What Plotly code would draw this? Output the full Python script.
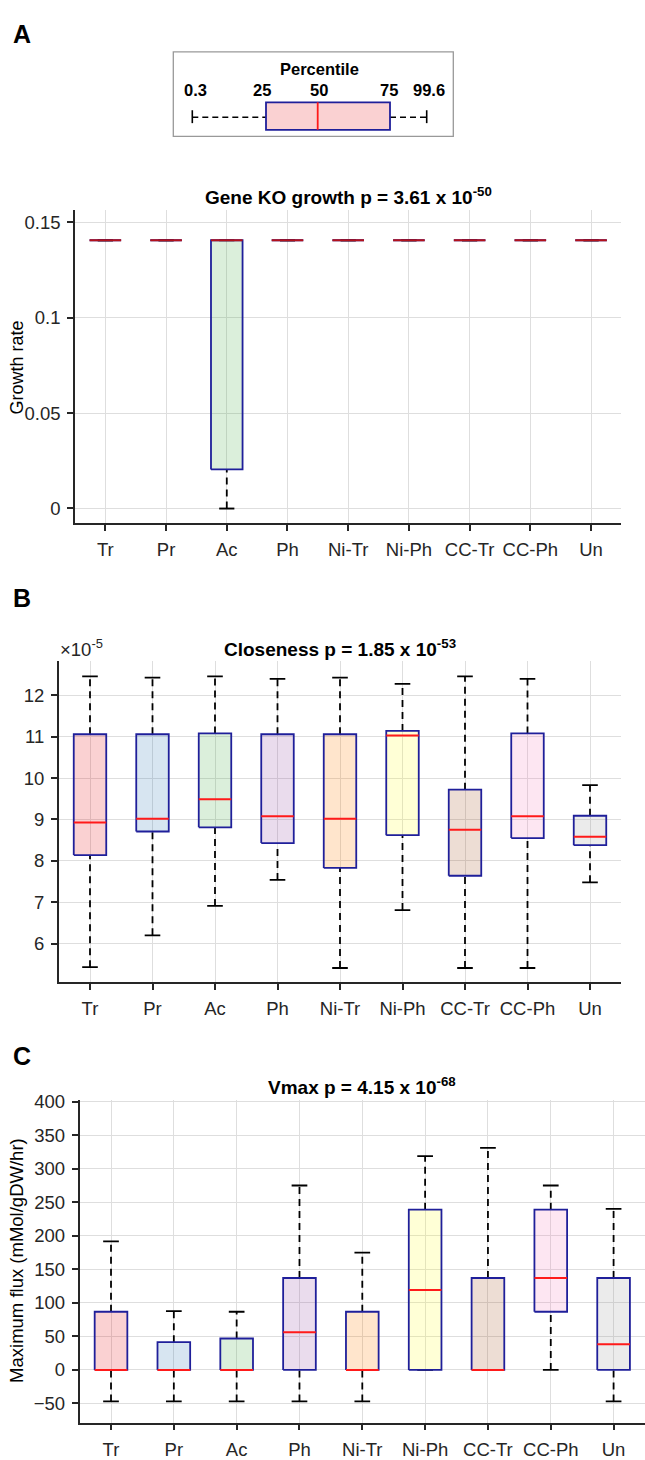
import plotly.graph_objects as go

# ---------------- data ----------------
categories = ["Tr", "Pr", "Ac", "Ph", "Ni-Tr", "Ni-Ph", "CC-Tr", "CC-Ph", "Un"]

# Panel A: gene KO growth rate (box statistics)
growth_lo = [0.1406, 0.1406, 0.0, 0.1406, 0.1406, 0.1406, 0.1406, 0.1406, 0.1406]
growth_q1 = [0.1406, 0.1406, 0.0205, 0.1406, 0.1406, 0.1406, 0.1406, 0.1406, 0.1406]
growth_med = [0.1406, 0.1406, 0.1406, 0.1406, 0.1406, 0.1406, 0.1406, 0.1406, 0.1406]
growth_q3 = [0.1406, 0.1406, 0.1406, 0.1406, 0.1406, 0.1406, 0.1406, 0.1406, 0.1406]
growth_hi = [0.1406, 0.1406, 0.1406, 0.1406, 0.1406, 0.1406, 0.1406, 0.1406, 0.1406]

# Panel B: closeness (x 1e-5)
close_lo = [5.43, 6.20, 6.91, 7.54, 5.41, 6.81, 5.41, 5.41, 7.48]
close_q1 = [8.14, 8.71, 8.81, 8.43, 7.83, 8.62, 7.64, 8.55, 8.38]
close_med = [8.93, 9.02, 9.49, 9.08, 9.02, 11.03, 8.75, 9.08, 8.58]
close_q3 = [11.06, 11.06, 11.08, 11.06, 11.06, 11.14, 9.72, 11.08, 9.09]
close_hi = [12.46, 12.43, 12.46, 12.40, 12.43, 12.28, 12.46, 12.40, 9.83]

# Panel C: Vmax (mMol/gDW/hr)
vmax_lo = [-47, -47, -47, -47, -47, 0, 0, 0, -47]
vmax_q1 = [0, 0, 0, 0, 0, 0, 0, 86.7, 0]
vmax_med = [0, 0, 0, 56.2, 0, 119.2, 0, 137, 38.4]
vmax_q3 = [86.7, 41.4, 46.8, 137, 86.7, 238.9, 137, 238.9, 137]
vmax_hi = [191.6, 87.7, 86.7, 274.9, 174.9, 318.7, 331, 274.9, 239.9]

growth_ticks = [0, 0.05, 0.1, 0.15]
growth_ticktext = ["0", "0.05", "0.1", "0.15"]
close_ticks = [6, 7, 8, 9, 10, 11, 12]
vmax_ticks = [-50, 0, 50, 100, 150, 200, 250, 300, 350, 400]

legend_percentiles = ["0.3", "25", "50", "75", "99.6"]

titles = [
    "<b>Gene KO growth p = 3.61 x 10<sup>-50</sup></b>",
    "<b>Closeness p = 1.85 x 10<sup>-53</sup></b>",
    "<b>Vmax p = 4.15 x 10<sup>-68</sup></b>",
]

# ---------------- style ----------------
W, H = 645, 1460
FONT = "Liberation Sans, Arial, sans-serif"
AX = "#262626"
GRID = "#dedede"
NAVY = "#1f1f9a"
RED = "#ff1a1a"
DARKRED = "#b3121c"
fills = ["rgba(228,26,28,0.2)", "rgba(55,126,184,0.2)", "rgba(77,175,74,0.2)",
         "rgba(152,78,163,0.2)", "rgba(255,127,0,0.2)", "rgba(255,255,51,0.2)",
         "rgba(166,86,40,0.2)", "rgba(247,129,191,0.2)", "rgba(153,153,153,0.2)"]
BW = 0.26   # half box width (category units)
CW = 0.125  # half cap width
TICK_SIZE = 18.5


def px(x):
    return x / W


def py(y):
    return 1 - y / H


fig = go.Figure()


def add_boxes(xa, ya, lo, q1, med, q3, hi, med_color):
    n = len(categories)
    pos = list(range(1, n + 1))
    # whiskers
    wx, wy = [], []
    for i in range(n):
        if hi[i] > q3[i]:
            wx += [pos[i], pos[i], None]
            wy += [q3[i], hi[i], None]
        if lo[i] < q1[i]:
            wx += [pos[i], pos[i], None]
            wy += [lo[i], q1[i], None]
    fig.add_trace(go.Scatter(x=wx, y=wy, mode="lines", xaxis=xa, yaxis=ya,
                             line=dict(color="black", width=1.8, dash="7px,5px"),
                             hoverinfo="skip", showlegend=False))
    # caps
    cx, cy = [], []
    for i in range(n):
        for v in (lo[i], hi[i]):
            cx += [pos[i] - CW, pos[i] + CW, None]
            cy += [v, v, None]
    fig.add_trace(go.Scatter(x=cx, y=cy, mode="lines", xaxis=xa, yaxis=ya,
                             line=dict(color="black", width=1.8),
                             hoverinfo="skip", showlegend=False))
    # boxes
    for i in range(n):
        fig.add_trace(go.Scatter(
            x=[pos[i] - BW, pos[i] + BW, pos[i] + BW, pos[i] - BW, pos[i] - BW],
            y=[q1[i], q1[i], q3[i], q3[i], q1[i]],
            mode="lines", fill="toself", fillcolor=fills[i],
            line=dict(color=NAVY, width=1.8), xaxis=xa, yaxis=ya,
            name=categories[i], hoverinfo="skip", showlegend=False))
    # medians
    mx, my = [], []
    for i in range(n):
        mx += [pos[i] - BW, pos[i] + BW, None]
        my += [med[i], med[i], None]
    fig.add_trace(go.Scatter(x=mx, y=my, mode="lines", xaxis=xa, yaxis=ya,
                             line=dict(color=med_color, width=2),
                             hoverinfo="skip", showlegend=False))


add_boxes("x", "y", growth_lo, growth_q1, growth_med, growth_q3, growth_hi, DARKRED)
add_boxes("x2", "y2", close_lo, close_q1, close_med, close_q3, close_hi, RED)
add_boxes("x3", "y3", vmax_lo, vmax_q1, vmax_med, vmax_q3, vmax_hi, RED)

tickfont = dict(family=FONT, size=TICK_SIZE, color=AX)


def xaxis(domain, anchor):
    return dict(domain=domain, anchor=anchor, range=[0.5, 9.5],
                tickvals=list(range(1, len(categories) + 1)), ticktext=categories,
                showgrid=True, gridcolor=GRID, gridwidth=1.2, zeroline=False,
                showline=True, linecolor=AX, linewidth=1.6,
                ticks="outside", ticklen=6, tickwidth=1.5, tickcolor=AX,
                ticklabelstandoff=3,
                tickfont=tickfont, fixedrange=True)


def yaxis(domain, anchor, rng, tickvals, ticktext=None):
    d = dict(domain=domain, anchor=anchor, range=rng, tickvals=tickvals,
             showgrid=True, gridcolor=GRID, gridwidth=1.2, zeroline=False,
             showline=True, linecolor=AX, linewidth=1.6,
             ticks="outside", ticklen=6, tickwidth=1.5, tickcolor=AX,
             ticklabelstandoff=3,
             tickfont=tickfont, fixedrange=True)
    if ticktext is not None:
        d["ticktext"] = ticktext
    return d


fig.update_layout(
    width=W, height=H, margin=dict(l=0, r=0, t=0, b=0),
    paper_bgcolor="white", plot_bgcolor="white", showlegend=False,
    xaxis=xaxis([px(75), px(621.4)], "y"),
    yaxis=yaxis([py(517.7), py(203)], "x", [-0.0075, 0.1562], growth_ticks, growth_ticktext),
    xaxis2=xaxis([px(58.75), px(621.25)], "y2"),
    yaxis2=yaxis([py(980.7), py(657)], "x2", [5.064, 12.83], close_ticks),
    xaxis3=xaxis([px(79.6), 1.0], "y3"),
    yaxis3=yaxis([py(1424.3), py(1099.5)], "x3", [-78.5, 402], vmax_ticks),
)

ann = []
# panel letters
for letter, yc in (("A", 25), ("B", 593), ("C", 1055)):
    ann.append(dict(text="<b>%s</b>" % letter, x=px(11), y=py(yc), xref="paper", yref="paper",
                    xanchor="left", yanchor="middle", showarrow=False,
                    font=dict(family=FONT, size=25, color="black")))
# titles
for t, (xc, yc) in zip(titles, ((348, 188.5), (340, 643.5), (362.3, 1085))):
    ann.append(dict(text=t, x=px(xc), y=py(yc), xref="paper", yref="paper",
                    xanchor="center", yanchor="middle", showarrow=False,
                    font=dict(family=FONT, size=19, color="black")))
# y titles
ann.append(dict(text="Growth rate", x=px(17.3), y=py(361), xref="paper", yref="paper",
                xanchor="center", yanchor="middle", textangle=-90, showarrow=False,
                font=dict(family=FONT, size=18, color="black")))
ann.append(dict(text="Maximum flux (mMol/gDW/hr)", x=px(16.4), y=py(1261), xref="paper", yref="paper",
                xanchor="center", yanchor="middle", textangle=-90, showarrow=False,
                font=dict(family=FONT, size=18.5, color="black")))
# exponent label of panel B
ann.append(dict(text="\u00d710<sup>-5</sup>", x=px(58), y=py(644), xref="paper", yref="paper",
                xanchor="left", yanchor="middle", showarrow=False,
                font=dict(family=FONT, size=18.5, color=AX)))

# ---------------- percentile key (panel A) ----------------
key_labels_x = [195, 261.7, 319, 389, 429]
ann.append(dict(text="<b>Percentile</b>", x=px(319.3), y=py(60), xref="paper", yref="paper",
                xanchor="center", yanchor="middle", showarrow=False,
                font=dict(family=FONT, size=16.5, color="black")))
for lab, xl in zip(legend_percentiles, key_labels_x):
    ann.append(dict(text="<b>%s</b>" % lab, x=px(xl), y=py(81.7), xref="paper", yref="paper",
                    xanchor="center", yanchor="middle", showarrow=False,
                    font=dict(family=FONT, size=16.5, color="black")))

shapes = []
shapes.append(dict(type="rect", xref="paper", yref="paper", x0=px(173.3), x1=px(453.3),
                   y0=py(128.3), y1=py(43.3), line=dict(color="#999999", width=1.3),
                   fillcolor="white", layer="below"))
# whiskers
for xa0, xa1 in ((192.3, 266), (390, 426.7)):
    shapes.append(dict(type="line", xref="paper", yref="paper", x0=px(xa0), x1=px(xa1),
                       y0=py(109), y1=py(109), line=dict(color="black", width=1.6, dash="6px,4px")))
# caps
for xc in (192.3, 426.7):
    shapes.append(dict(type="line", xref="paper", yref="paper", x0=px(xc), x1=px(xc),
                       y0=py(102), y1=py(115), line=dict(color="black", width=1.6)))
# box
shapes.append(dict(type="rect", xref="paper", yref="paper", x0=px(266), x1=px(390),
                   y0=py(121.7), y1=py(94), line=dict(color=NAVY, width=1.8),
                   fillcolor=fills[0]))
shapes.append(dict(type="line", xref="paper", yref="paper", x0=px(317.7), x1=px(317.7),
                   y0=py(121.7), y1=py(94), line=dict(color=RED, width=1.8)))

fig.update_layout(annotations=ann, shapes=shapes)

fig.write_html("out.html", config={"displayModeBar": False},
               post_script="document.body.style.margin='0px';document.body.style.padding='0px';"
                           "document.documentElement.style.overflow='hidden';")
